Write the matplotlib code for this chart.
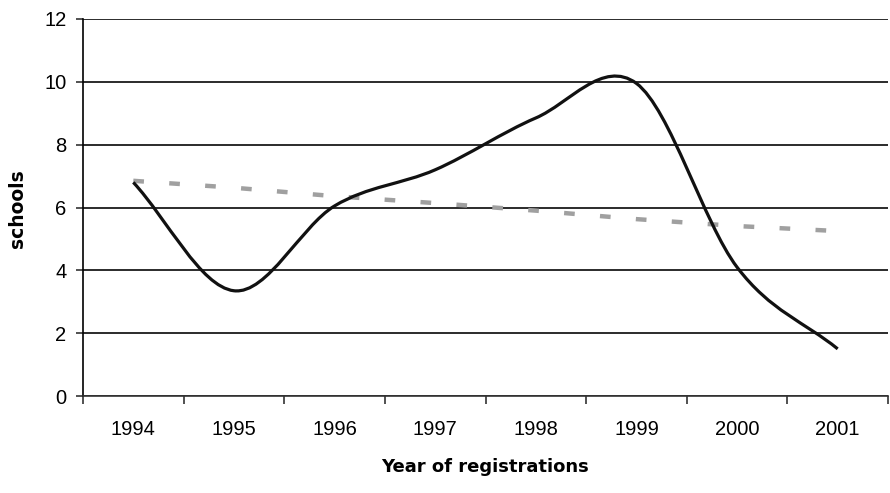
import numpy as np
import matplotlib
matplotlib.use("Agg")
import matplotlib.pyplot as plt
from matplotlib.path import Path
from matplotlib.patches import PathPatch

# dados
anos = ['1994', '1995', '1996', '1997', '1998', '1999', '2000', '2001']
escolas = [6.8, 3.35, 6.05, 7.2, 8.85, 9.95, 4.1, 1.5]
tendencia = [6.85, 6.63, 6.36, 6.14, 5.90, 5.63, 5.41, 5.25]
y_ticks = [0, 2, 4, 6, 8, 10, 12]


def linha_suave(xs, ys):
    # curva suavizada (estilo Excel): bezier com tangentes de Catmull-Rom
    pts = np.column_stack([xs, ys]).astype(float)
    n = len(pts)
    tang = np.zeros_like(pts)
    for i in range(n):
        if i == 0:
            tang[i] = pts[1] - pts[0]
        elif i == n - 1:
            tang[i] = pts[-1] - pts[-2]
        else:
            tang[i] = (pts[i + 1] - pts[i - 1]) / 2
    verts = [pts[0]]
    codes = [Path.MOVETO]
    for i in range(n - 1):
        verts += [pts[i] + tang[i] / 3, pts[i + 1] - tang[i + 1] / 3, pts[i + 1]]
        codes += [Path.CURVE4] * 3
    return Path(verts, codes)


plt.rcParams['font.family'] = ['Liberation Sans', 'DejaVu Sans']

fig = plt.figure(figsize=(8.9, 4.93), dpi=100)
ax = fig.add_axes([83 / 890, 1 - 396 / 493, 805 / 890, 377 / 493])

x = np.arange(len(anos))

# linha de tendência tracejada cinza
ax.plot(x, tendencia, color='#a0a0a0', lw=3.2, linestyle=(0, (2.4, 5.7)),
        solid_capstyle='butt', dash_capstyle='butt', zorder=3)

# linha principal suavizada
patch = PathPatch(linha_suave(x, escolas), fill=False, edgecolor='#111111',
                  lw=2.3, capstyle='butt', joinstyle='round', zorder=4)
ax.add_patch(patch)

ax.set_xlim(-0.5, len(anos) - 0.5)
ax.set_ylim(0, 12)

# ticks do eixo x entre as categorias, rótulos no centro
ax.set_xticks(np.arange(len(anos) + 1) - 0.5)
ax.set_xticklabels([])
ax.set_xticks(x, minor=True)
ax.set_xticklabels(anos, minor=True, fontsize=14.5)
ax.tick_params(axis='x', which='major', direction='out', length=6, width=1.1, color='#222222')
ax.tick_params(axis='x', which='minor', length=0, pad=17)

ax.set_yticks(y_ticks)
ax.set_yticklabels([str(v) for v in y_ticks], fontsize=14.5)
ax.tick_params(axis='y', direction='out', length=5, width=1.1, color='#222222', pad=7)

ax.grid(axis='y', color='#1a1a1a', lw=1.3)
ax.set_axisbelow(True)

for lado in ['top', 'right']:
    ax.spines[lado].set_visible(False)
ax.spines['left'].set_linewidth(1.2)
ax.spines['bottom'].set_linewidth(1.2)
ax.spines['bottom'].set_color('#333333')

fig.text(18 / 890, 1 - 209 / 493, 'schools', rotation=90, ha='center', va='center',
         fontsize=13.5, fontweight='bold', family='DejaVu Sans')
fig.text(485 / 890, 1 - 467 / 493, 'Year of registrations', ha='center', va='center',
         fontsize=13, fontweight='bold', family='DejaVu Sans')

fig.savefig('out.png', dpi=100)
